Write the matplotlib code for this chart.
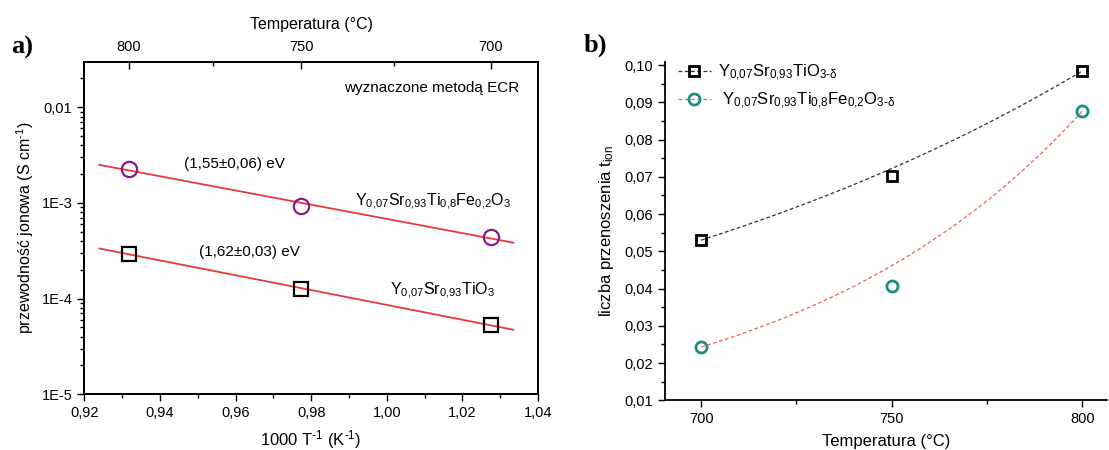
import numpy as np
import matplotlib
matplotlib.use("Agg")
import matplotlib.pyplot as plt
from matplotlib.ticker import FixedLocator, NullFormatter, LogLocator, MultipleLocator, FuncFormatter

plt.rcParams['font.family'] = ['Liberation Sans', 'DejaVu Sans']
plt.rcParams['mathtext.fontset'] = 'custom'
plt.rcParams['mathtext.rm'] = 'Liberation Sans'
plt.rcParams['mathtext.it'] = 'Liberation Sans'
plt.rcParams['mathtext.default'] = 'regular'

# ---------------- data: panel a ----------------
inv_T = [0.9319, 0.9774, 1.0276]            # 1000/T (K^-1)
sigma_fe = [2.27e-3, 0.93e-3, 4.4e-4]       # Y0.07Sr0.93Ti0.8Fe0.2O3
sigma_ti = [2.93e-4, 1.26e-4, 5.3e-5]       # Y0.07Sr0.93TiO3
top_ticks_C = [800, 750, 700]
top_minor_C = [775, 725]
fit_range = [0.924, 1.0335]
ea_fe = "(1,55±0,06) eV"
ea_ti = "(1,62±0,03) eV"

# ---------------- data: panel b ----------------
temp_C = [700, 750, 800]
t_ion_ti = [0.0530, 0.0702, 0.0984]
t_ion_fe = [0.0243, 0.0407, 0.0876]

label_ti_a = r"Y$_{0{,}07}$Sr$_{0{,}93}$TiO$_3$"
label_fe_a = r"Y$_{0{,}07}$Sr$_{0{,}93}$Ti$_{0{,}8}$Fe$_{0{,}2}$O$_3$"
label_ti_b = r"Y$_{0{,}07}$Sr$_{0{,}93}$TiO$_{3\text{-}\delta}$"
label_fe_b = r" Y$_{0{,}07}$Sr$_{0{,}93}$Ti$_{0{,}8}$Fe$_{0{,}2}$O$_{3\text{-}\delta}$"

RED = '#e53a3a'
PURPLE = '#8a1c8a'
TEAL = '#1f8c80'

fig = plt.figure(figsize=(11.09, 4.5), dpi=100)

# ================= panel a =================
axa = fig.add_axes([0.076, 0.1238, 0.4091, 0.7384])
axa.set_yscale('log')
axa.set_xlim(0.92, 1.04)
axa.set_ylim(1e-5, 0.0297)

xf = np.linspace(fit_range[0], fit_range[1], 50)
for sig, col, mk, ms in [(sigma_fe, PURPLE, 'o', 11), (sigma_ti, 'black', 's', 9.5)]:
    p = np.polyfit(inv_T, np.log10(sig), 1)
    axa.plot(xf, 10 ** np.polyval(p, xf), color=RED, lw=1.3, zorder=2)
    axa.plot(inv_T, sig, linestyle='none', marker=mk, ms=ms, mfc='none',
             mec=col, mew=1.6, zorder=3)

axa.xaxis.set_major_locator(MultipleLocator(0.02))
axa.xaxis.set_minor_locator(MultipleLocator(0.01))
axa.xaxis.set_major_formatter(FuncFormatter(lambda v, p: f"{v:.2f}".replace('.', ',')))
axa.yaxis.set_major_locator(FixedLocator([1e-5, 1e-4, 1e-3, 1e-2]))
axa.yaxis.set_major_formatter(FuncFormatter(
    lambda v, p: {1e-5: '1E-5', 1e-4: '1E-4', 1e-3: '1E-3', 1e-2: '0,01'}.get(round(v, 8), '')))
axa.yaxis.set_minor_locator(LogLocator(base=10, subs=np.arange(2, 10), numticks=20))
axa.yaxis.set_minor_formatter(NullFormatter())
axa.tick_params(axis='both', which='major', direction='out', length=5, width=1, labelsize=10.5)
axa.tick_params(axis='both', which='minor', direction='out', length=3, width=1)
axa.tick_params(axis='y', which='both', right=False)
for s in axa.spines.values():
    s.set_linewidth(1.3)

axa.set_xlabel(r"1000 T$^{\text{-}1}$ (K$^{\text{-}1}$)", fontsize=12, labelpad=6)
axa.set_ylabel(r"przewodność jonowa (S cm$^{\text{-}1}$)", fontsize=11.5, labelpad=4)

axt = axa.twiny()
axt.set_xlim(axa.get_xlim())
axt.set_xticks([1000 / (c + 273.15) for c in top_ticks_C])
axt.set_xticklabels([str(c) for c in top_ticks_C])
axt.set_xticks([1000 / (c + 273.15) for c in top_minor_C], minor=True)
axt.tick_params(axis='x', which='major', direction='in', length=5, width=1, labelsize=10.5, pad=6)
axt.tick_params(axis='x', which='minor', direction='in', length=3, width=1)
axt.set_xlabel("Temperatura (°C)", fontsize=11.5, labelpad=8)
for s in axt.spines.values():
    s.set_linewidth(1.3)

axa.text(1.0351, 0.0159, "wyznaczone metodą ECR", ha='right', va='center', fontsize=11)
axa.text(0.9596, 2.56e-3, ea_fe, ha='center', va='center', fontsize=11)
axa.text(0.9638, 3.08e-4, ea_ti, ha='center', va='center', fontsize=11)
axa.text(0.9915, 1.02e-3, label_fe_a, ha='left', va='center', fontsize=11.5)
axa.text(1.0008, 1.2e-4, label_ti_a, ha='left', va='center', fontsize=11.5)

fig.text(0.010, 0.895, "a)", fontsize=19, fontweight='bold', family='Liberation Serif',
         ha='left', va='center')

# ================= panel b =================
axb = fig.add_axes([0.5996, 0.1104, 0.3986, 0.7525])
axb.set_xlim(690.5, 806.5)
axb.set_ylim(0.01, 0.1009)


def exp_curve(x, y, xs):
    # exponential growth curve anchored on the first and last measured points
    x = np.asarray(x, float)
    y = np.asarray(y, float)
    B = np.log(y[-1] / y[0]) / (x[-1] - x[0])
    return y[0] * np.exp(B * (xs - x[0]))


tt = np.linspace(temp_C[0], temp_C[-1], 200)
for y, lc, mk, mcol, lab, ms in [(t_ion_ti, '#333333', 's', 'black', label_ti_b, 7.5),
                                 (t_ion_fe, '#ee6060', 'o', TEAL, label_fe_b, 8)]:
    axb.plot(tt, exp_curve(temp_C, y, tt), color=lc, lw=0.9,
             linestyle=(0, (3, 2)), zorder=2)
    axb.plot(temp_C, y, linestyle='none', marker=mk, ms=ms, mfc='none',
             mec=mcol, mew=2, zorder=3)
    axb.plot([], [], color=lc, lw=0.9, linestyle=(0, (3, 2)), marker=mk, ms=ms,
             mfc='none', mec=mcol, mew=2, label=lab)

axb.xaxis.set_major_locator(MultipleLocator(50))
axb.xaxis.set_minor_locator(MultipleLocator(25))
axb.yaxis.set_major_locator(MultipleLocator(0.01))
axb.yaxis.set_minor_locator(MultipleLocator(0.005))
axb.yaxis.set_major_formatter(FuncFormatter(lambda v, p: f"{v:.2f}".replace('.', ',')))
axb.tick_params(axis='both', which='major', direction='out', length=5, width=1, labelsize=10.5)
axb.tick_params(axis='both', which='minor', direction='out', length=3, width=1)
axb.spines['top'].set_visible(False)
axb.spines['right'].set_visible(False)
for s in ['left', 'bottom']:
    axb.spines[s].set_linewidth(1.3)

axb.set_xlabel("Temperatura (°C)", fontsize=12, labelpad=6)
axb.set_ylabel(r"liczba przenoszenia t$_{ion}$", fontsize=12, labelpad=6)

leg = axb.legend(loc='upper left', bbox_to_anchor=(-0.005, 1.04), frameon=False,
                 fontsize=12, handlelength=2.0, handletextpad=0.4, labelspacing=0.45)

fig.text(0.526, 0.9, "b)", fontsize=19, fontweight='bold', family='Liberation Serif',
         ha='left', va='center')

fig.savefig("out.png", dpi=100)
